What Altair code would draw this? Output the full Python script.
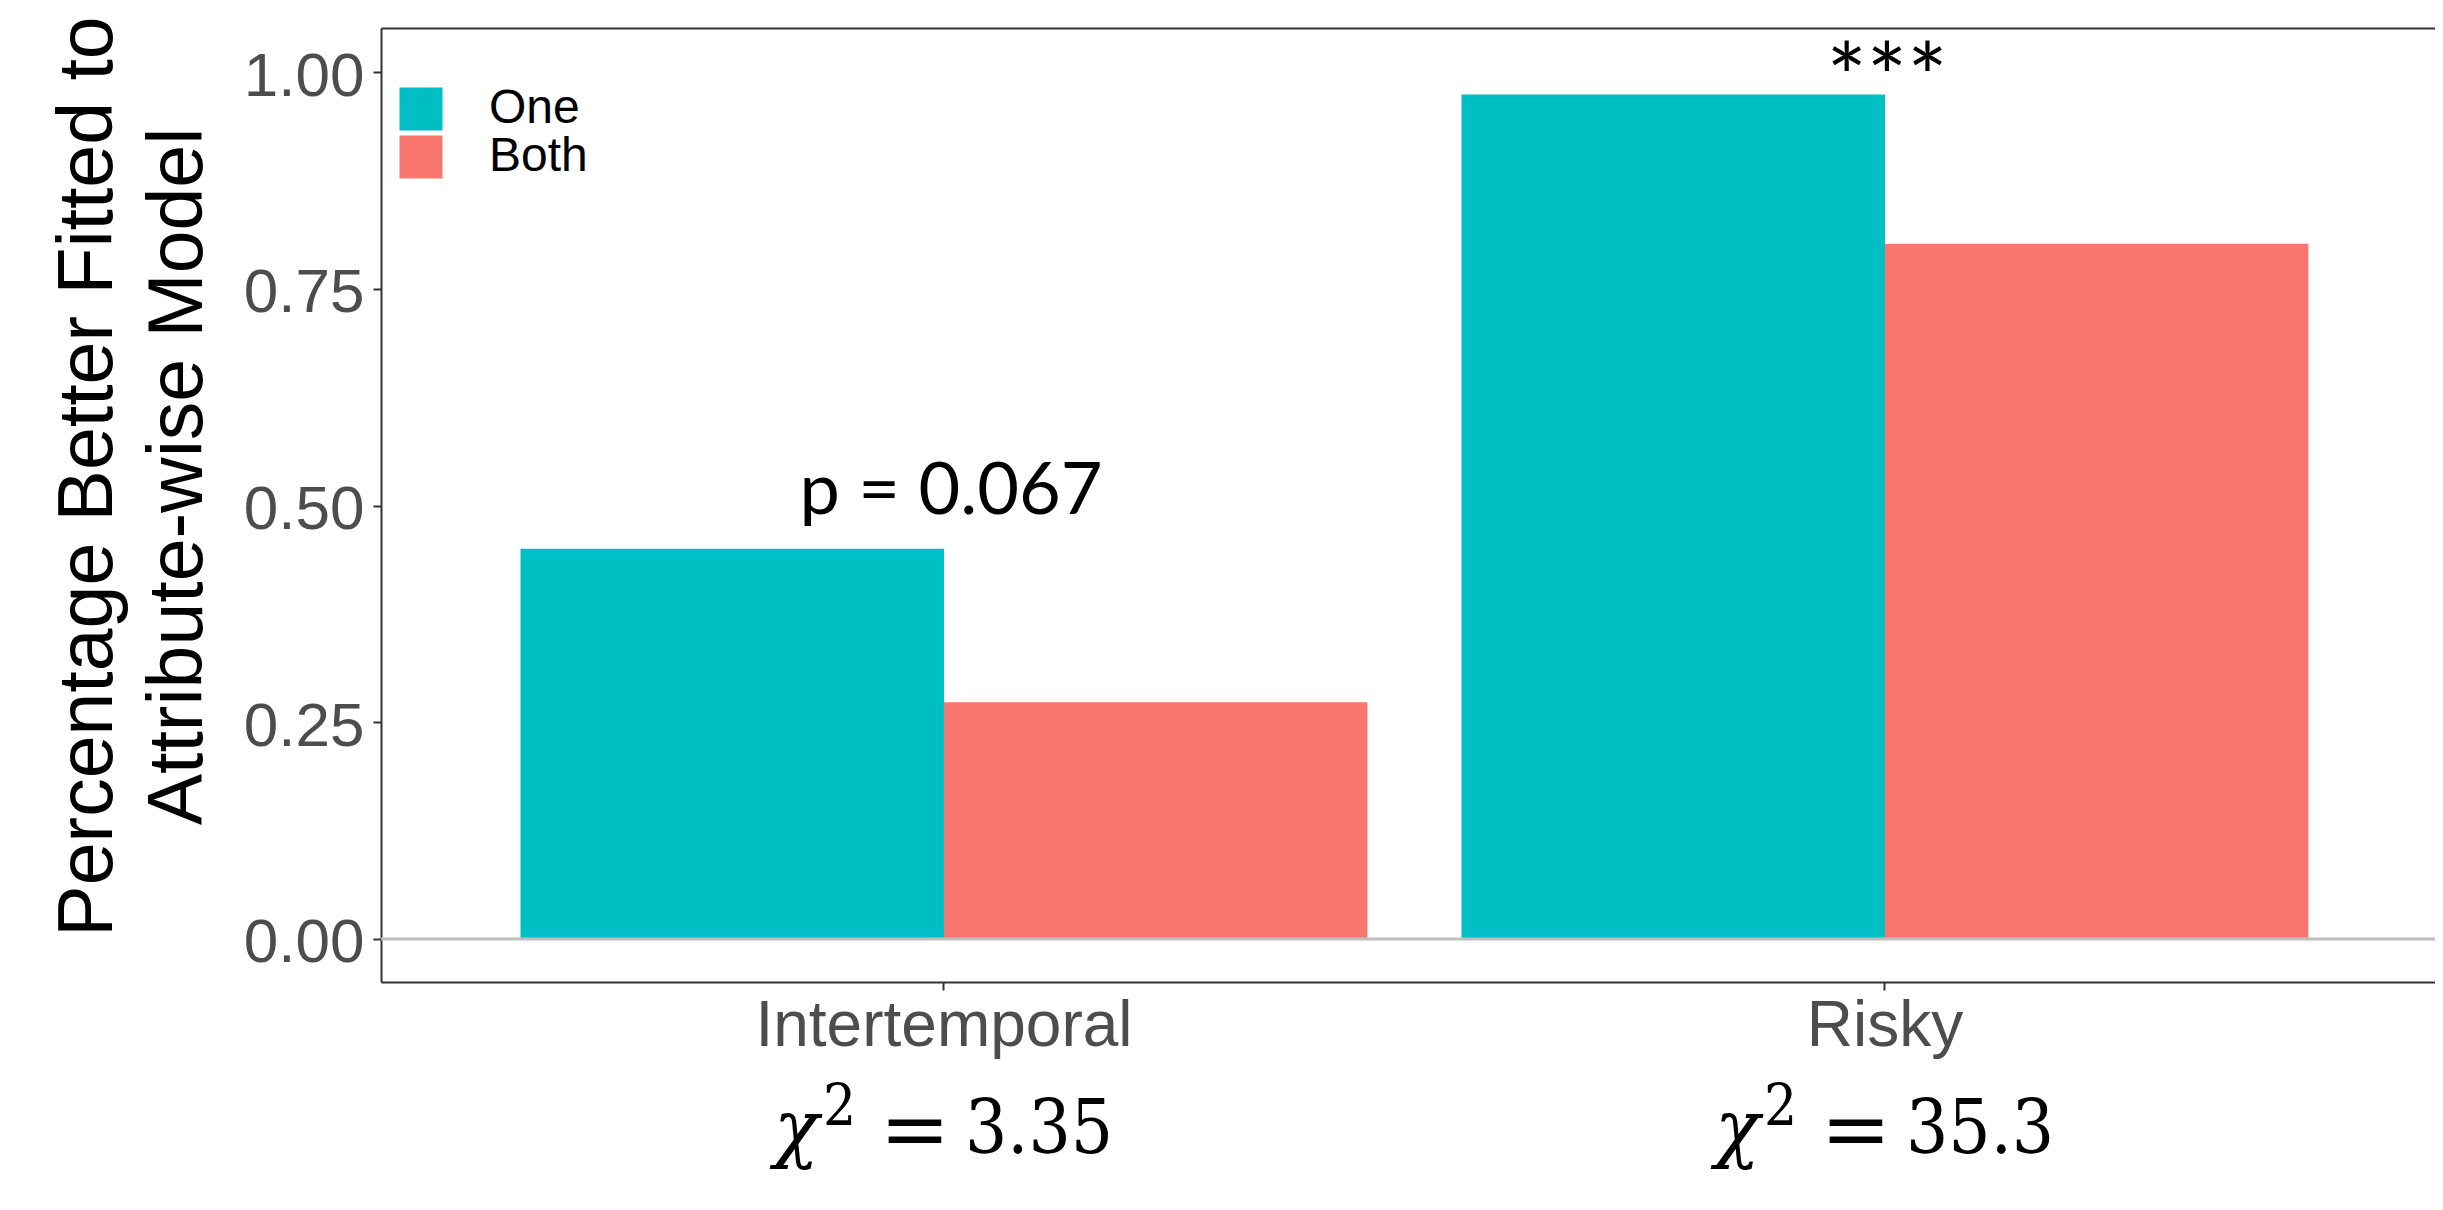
import altair as alt
import pandas as pd

# ---- data ----
categories = ["Intertemporal", "Risky"]
groups = ["One", "Both"]
one_values = [0.450, 0.974]
both_values = [0.273, 0.802]
sig_labels = ["p = 0.067", "***"]
chi_values = ["3.35", "35.3"]
y_ticks = [0.0, 0.25, 0.50, 0.75, 1.00]
y_title = ["Percentage Better Fitted to", "Attribute-wise Model"]
colors = ["#00BFC4", "#F8766D"]

bars_df = pd.DataFrame({
    "Category": categories * 2,
    "Group": [groups[0]] * 2 + [groups[1]] * 2,
    "Value": one_values + both_values,
})
p_df = pd.DataFrame({"Category": [categories[0]], "Value": [one_values[0]], "label": [sig_labels[0]]})
star_df = pd.DataFrame({"Category": [categories[1]], "Value": [one_values[1]], "label": [sig_labels[1]]})
chi_df = pd.DataFrame({"Category": categories, "chi": chi_values})
zero_df = pd.DataFrame({"v": [0]})

FRAME = "#333333"
SERIF = "'DejaVu Serif Condensed', 'DejaVu Serif', serif"

x_scale = alt.Scale(domain=categories, paddingInner=0.1, paddingOuter=0.1414, align=0.5243)
y_scale = alt.Scale(domain=[-0.0496, 1.0508], nice=False, zero=False)

bars = alt.Chart(bars_df).mark_bar().encode(
    x=alt.X("Category:N", scale=x_scale, sort=categories,
            axis=alt.Axis(orient="bottom", title=None, labelAngle=0,
                          labelFont="Liberation Sans", labelFontSize=64,
                          labelColor="#4D4D4D", labelPadding=4, labelLimit=0,
                          tickSize=8, tickWidth=2, tickColor=FRAME,
                          domainColor=FRAME, domainWidth=2, grid=False)),
    xOffset=alt.XOffset("Group:N", sort=groups,
                        scale=alt.Scale(domain=groups, paddingInner=0, paddingOuter=0)),
    y=alt.Y("Value:Q", scale=y_scale,
            axis=alt.Axis(values=y_ticks, format=".2f", grid=False,
                          labelFont="Liberation Sans", labelFontSize=62,
                          labelColor="#4D4D4D", labelPadding=9, labelOffset=4,
                          tickSize=8, tickWidth=2, tickColor=FRAME,
                          domainColor=FRAME, domainWidth=2,
                          title=y_title, titleFont="Liberation Sans",
                          titleFontSize=77, titleFontWeight="normal",
                          titleColor="black", titleLineHeight=90,
                          titleX=-270, titleY=448, titleBaseline="alphabetic")),
    color=alt.Color("Group:N", sort=groups,
                    scale=alt.Scale(domain=groups, range=colors),
                    legend=alt.Legend(orient="none", legendX=16, legendY=57,
                                      title=None, symbolType="square",
                                      symbolSize=1849, symbolStrokeWidth=0,
                                      symbolOpacity=1, labelFont="Liberation Sans",
                                      labelFontSize=48, labelColor="black",
                                      labelOffset=44, rowPadding=0, padding=0)),
)

zero_rule = alt.Chart(zero_df).mark_rule(color="#BEBEBE", strokeWidth=3).encode(
    y=alt.Y("v:Q", axis=None)
)

p_text = alt.Chart(p_df).mark_text(
    font="Lato", fontSize=72, color="black", baseline="alphabetic", dy=-35, dx=7
).encode(
    x=alt.X("Category:N", axis=None),
    y=alt.Y("Value:Q", axis=None),
    text="label:N",
)

star_text = alt.Chart(star_df).mark_text(
    font="Lato", fontSize=95, color="black", baseline="alphabetic", dy=17, dx=2
).encode(
    x=alt.X("Category:N", axis=None),
    y=alt.Y("Value:Q", axis=None),
    text="label:N",
)

# chi-square annotations under the x labels: italic chi, superscript 2, "=", value
chi_base = alt.Chart(chi_df)

chi_sym = chi_base.mark_text(
    text="χ", font="DejaVu Serif", fontStyle="italic", fontSize=74, color="black",
    baseline="alphabetic", align="left", dy=214, dx=-170
).encode(
    x=alt.X("Category:N",
            axis=alt.Axis(orient="top", labels=False, ticks=False, title=None,
                          domainColor=FRAME, domainWidth=2, grid=False)),
    y=alt.datum(0, axis=None),
)

chi_sup = chi_base.mark_text(
    text="2", font=SERIF, fontSize=58, color="black",
    baseline="alphabetic", align="left", dy=186, dx=-121
).encode(
    x=alt.X("Category:N", axis=None),
    y=alt.datum(0, axis=None),
)

chi_eq = chi_base.mark_text(
    text="=", font="DejaVu Serif", fontSize=84, color="black",
    baseline="alphabetic", align="center", dy=219, dx=-29
).encode(
    x=alt.X("Category:N", axis=None),
    y=alt.datum(0, axis=None),
)

chi_num = chi_base.mark_text(
    font=SERIF, fontSize=74, color="black",
    baseline="alphabetic", align="left", dy=214, dx=21
).encode(
    x=alt.X("Category:N", axis=None),
    y=alt.datum(0, axis=None),
    text="chi:N",
)

chart = alt.layer(
    bars, zero_rule, p_text, star_text, chi_sym, chi_sup, chi_eq, chi_num
).resolve_axis(
    x="independent", y="independent"
).properties(
    width=2054, height=954,
    padding={"left": 373, "top": 20, "right": 0, "bottom": 200},
    autosize=alt.AutoSizeParams(type="none"),
    background="white",
).configure_view(stroke=None)

chart.save("out.html", embed_options={"renderer": "svg", "actions": False})
